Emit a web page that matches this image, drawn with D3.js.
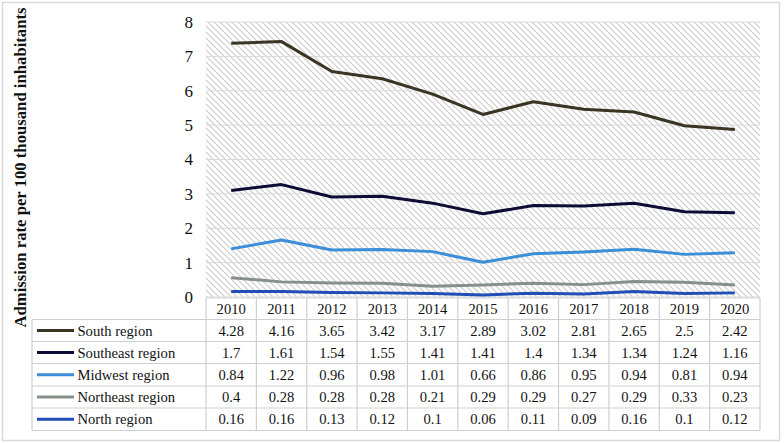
<!DOCTYPE html>
<html><head><meta charset="utf-8">
<script src="https://cdn.jsdelivr.net/npm/d3@7"></script>
<style>body{margin:0;background:#fff}svg{display:block}
svg text{font-family:"Liberation Serif","Tinos","Times New Roman","DejaVu Serif",serif;}</style>
</head><body>
<script>
const years = ["2010","2011","2012","2013","2014","2015","2016","2017","2018","2019","2020"];
const seriesNames = ["South region","Southeast region","Midwest region","Northeast region","North region"];
const south     = [4.28,4.16,3.65,3.42,3.17,2.89,3.02,2.81,2.65,2.5,2.42];
const southeast = [1.7,1.61,1.54,1.55,1.41,1.41,1.4,1.34,1.34,1.24,1.16];
const midwest   = [0.84,1.22,0.96,0.98,1.01,0.66,0.86,0.95,0.94,0.81,0.94];
const northeast = [0.4,0.28,0.28,0.28,0.21,0.29,0.29,0.27,0.29,0.33,0.23];
const north     = [0.16,0.16,0.13,0.12,0.1,0.06,0.11,0.09,0.16,0.1,0.12];
const yTicks = [0,1,2,3,4,5,6,7,8];
const colors = ["#3a3424","#0c0c36","#3b8ed8","#859088","#1f4eb5"];
const yTitle = "Admission rate per 100 thousand inhabitants";

(function(){
const values = [south, southeast, midwest, northeast, north];
// stacked lines: stacking bottom -> top is North, Northeast, Midwest, Southeast, South
const stackOrder = [4,3,2,1,0];
const stacked = values.map(()=>[]);
const cum = years.map(()=>0);
stackOrder.forEach(si=>{
  stacked[si] = years.map((yr,i)=>{cum[i]+=values[si][i]; return cum[i];});
});

const W=784,H=443;
const pLeft=206,pRight=760,pTop=22,pBottom=297;
const svg=d3.select("body").append("svg").attr("width",W).attr("height",H);

svg.append("rect").attr("x",2.5).attr("y",2.5).attr("width",777).attr("height",438)
  .attr("fill","#fff").attr("stroke","#d9d9d9").attr("stroke-width",1.5);

const defs=svg.append("defs");
const pat=defs.append("pattern").attr("id","hatch").attr("patternUnits","userSpaceOnUse")
  .attr("width",6).attr("height",6);
pat.append("rect").attr("width",6).attr("height",6).attr("fill","#fff");
pat.append("path").attr("d","M-1,-1 L7,7 M-4,2 L1,7 M5,-1 L7,1").attr("stroke","#cbcbcb").attr("stroke-width",1.1);

const x=d3.scaleBand().domain(years).range([pLeft,pRight]);
const y=d3.scaleLinear().domain([0,8]).range([pBottom,pTop]);

svg.append("rect").attr("x",pLeft).attr("y",pTop).attr("width",pRight-pLeft).attr("height",pBottom-pTop)
  .attr("fill","url(#hatch)");

svg.append("g").selectAll("line").data(yTicks).join("line")
  .attr("x1",pLeft).attr("x2",pRight).attr("y1",d=>y(d)).attr("y2",d=>y(d))
  .attr("stroke","#d9d9d9").attr("stroke-width",1);

svg.append("g").selectAll("text").data(yTicks).join("text")
  .attr("x",193).attr("y",d=>y(d)).attr("dy","0.35em").attr("text-anchor","end")
  .attr("font-size",17).attr("fill","#111").text(d=>d);

svg.append("text").attr("transform","translate(20,167.5) rotate(-90)").attr("text-anchor","middle")
  .attr("dy","0.35em").attr("font-weight","bold").attr("font-size",16.7)
  .attr("fill","#111").text(yTitle);

const line=d3.line().x((d,i)=>x(years[i])+x.bandwidth()/2).y(d=>y(d));
stackOrder.forEach(si=>{
  svg.append("path").datum(stacked[si]).attr("d",line).attr("fill","none")
    .attr("stroke",colors[si]).attr("stroke-width",3).attr("stroke-linejoin","round");
});

// table
const rowTop=[298,319.5,341.5,363.5,386,408,430.5];
const labelLeft=32;
const tg=svg.append("g");
const gridC="#cfcfcf";
rowTop.forEach((ry,i)=>{
  tg.append("line").attr("x1",i===0?pLeft:labelLeft).attr("x2",pRight).attr("y1",ry).attr("y2",ry)
    .attr("stroke",gridC).attr("stroke-width",1.2);
});
const xs=years.map(d=>x(d)).concat([pRight]);
xs.forEach(xx=>{
  tg.append("line").attr("x1",xx).attr("x2",xx).attr("y1",rowTop[0]).attr("y2",rowTop[6])
    .attr("stroke",gridC).attr("stroke-width",1.2);
});
tg.append("line").attr("x1",labelLeft).attr("x2",labelLeft).attr("y1",rowTop[1]).attr("y2",rowTop[6])
  .attr("stroke",gridC).attr("stroke-width",1.2);

const mid=(i)=>(rowTop[i]+rowTop[i+1])/2;
tg.selectAll("text.yr").data(years).join("text").attr("class","yr")
  .attr("x",d=>x(d)+x.bandwidth()/2).attr("y",mid(0)).attr("dy","0.35em").attr("text-anchor","middle")
  .attr("font-size",14.6).attr("fill","#111").text(d=>d);

seriesNames.forEach((name,si)=>{
  const cy=mid(si+1);
  tg.append("line").attr("x1",37).attr("x2",74).attr("y1",cy).attr("y2",cy)
    .attr("stroke",colors[si]).attr("stroke-width",3);
  tg.append("text").attr("x",77.5).attr("y",cy).attr("dy","0.35em")
    .attr("font-size",14.6).attr("fill","#111").text(name);
  tg.append("g").selectAll("text").data(values[si]).join("text")
    .attr("x",(d,i)=>x(years[i])+x.bandwidth()/2).attr("y",cy).attr("dy","0.35em").attr("text-anchor","middle")
    .attr("font-size",14.6).attr("fill","#111").text(d=>d);
});
})();
</script>
</body></html>
